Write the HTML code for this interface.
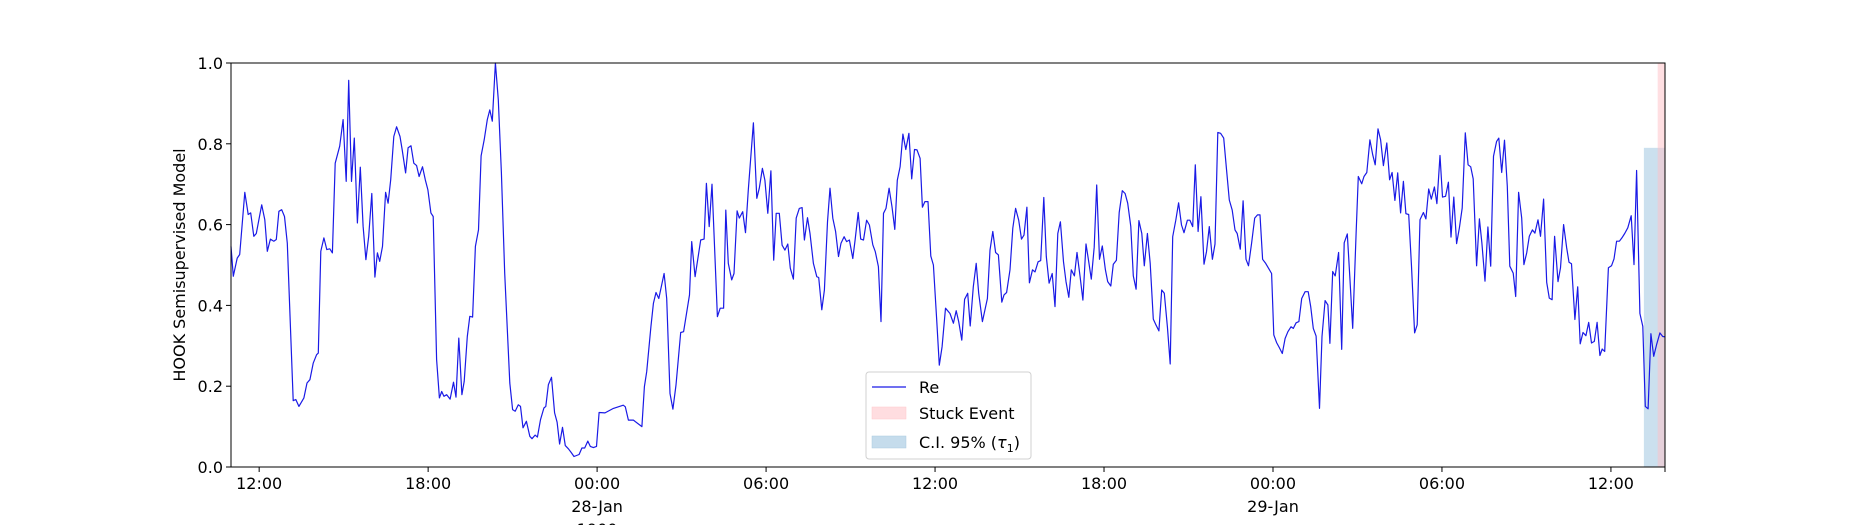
<!DOCTYPE html>
<html><head><meta charset="utf-8"><style>
body{margin:0;background:#fff;}
svg{display:block;font-family:"DejaVu Sans","Liberation Sans",sans-serif;}
</style></head><body>
<svg id="chart" width="1850" height="525" viewBox="0 0 1850 525" xmlns="http://www.w3.org/2000/svg">
<rect width="1850" height="525" fill="#fff"/>
<g id="spans"></g>
<g id="plot"></g>
<g id="axes"></g>
<text transform="translate(185,265) rotate(-90)" text-anchor="middle" font-size="16">HOOK Semisupervised Model</text>
<g>
<rect x="866" y="372" width="165" height="87" rx="3" fill="#fff" fill-opacity="0.8" stroke="#d0d0d0"/>
<line x1="872" y1="387" x2="906" y2="387" stroke="#1a1ae6" stroke-width="1.3"/>
<text x="919" y="393" font-size="16">Re</text>
<rect x="872" y="407" width="34" height="12" fill="#ffdde0" stroke="#ffc8cc" stroke-width="0.5"/>
<text x="919" y="419" font-size="16">Stuck Event</text>
<rect x="872" y="436" width="34" height="12" fill="#c5dcec" stroke="#a9c9e0" stroke-width="0.5"/>
<text x="919" y="448" font-size="16">C.I. 95% (<tspan font-style="italic">τ</tspan><tspan font-size="11" dy="4">1</tspan><tspan dy="-4">)</tspan></text>
</g>
</svg>
<script>
// hours relative to 28-Jan 00:00
const hours=[-13.0,-12.92,-12.78,-12.69,-12.51,-12.39,-12.30,-12.19,-12.1,-11.91,-11.8,-11.71,-11.6,-11.48,-11.39,-11.3,-11.2,-11.1,-11.0,-10.79,-10.7,-10.59,-10.41,-10.3,-10.2,-10.08,-9.96,-9.9,-9.81,-9.7,-9.6,-9.49,-9.4,-9.3,-9.14,-9.02,-8.91,-8.82,-8.72,-8.62,-8.51,-8.41,-8.31,-8.21,-8.11,-8.0,-7.89,-7.8,-7.72,-7.62,-7.51,-7.42,-7.33,-7.22,-7.12,-7.0,-6.92,-6.8,-6.71,-6.61,-6.51,-6.41,-6.32,-6.2,-6.1,-6.01,-5.9,-5.82,-5.7,-5.6,-5.52,-5.44,-5.34,-5.22,-5.1,-5.01,-4.91,-4.8,-4.72,-4.61,-4.52,-4.42,-4.32,-4.21,-4.12,-4.01,-3.9,-3.81,-3.72,-3.61,-3.51,-3.4,-3.28,-3.1,-3.0,-2.91,-2.8,-2.72,-2.63,-2.51,-2.39,-2.31,-2.2,-2.12,-2.01,-1.89,-1.82,-1.73,-1.62,-1.51,-1.42,-1.33,-1.23,-1.13,-1.02,-0.92,-0.82,-0.64,-0.54,-0.44,-0.33,-0.24,-0.13,-0.02,
0.07,0.28,0.58,0.93,1.0,1.11,1.29,1.59,1.68,1.76,1.91,2.0,2.09,2.19,2.38,2.47,2.59,2.69,2.8,2.97,3.07,3.28,3.36,3.48,3.68,3.8,3.88,3.98,4.08,4.27,4.37,4.49,4.57,4.66,4.78,4.86,4.97,5.05,5.17,5.27,5.37,5.55,5.67,5.76,5.87,5.96,6.06,6.17,6.27,6.36,6.47,6.57,6.67,6.77,6.86,6.97,7.07,7.18,7.28,7.36,7.47,7.56,7.68,7.8,7.87,7.98,8.07,8.18,8.27,8.37,8.47,8.57,8.66,8.77,8.86,8.96,9.08,9.16,9.27,9.36,9.46,9.57,9.67,9.79,9.88,9.99,10.08,10.17,10.26,10.37,10.47,10.57,10.66,10.76,10.86,10.96,11.07,11.17,11.27,11.36,11.47,11.55,11.64,11.75,11.85,11.94,12.06,12.15,12.25,12.37,12.53,12.65,12.75,12.84,12.95,13.05,13.16,13.25,13.36,13.46,13.55,
13.68,13.86,13.95,14.05,14.15,14.25,14.37,14.45,14.54,14.66,14.76,14.86,14.97,15.07,15.16,15.26,15.35,15.46,15.55,15.66,15.75,15.86,15.95,16.05,16.16,16.26,16.36,16.45,16.56,16.65,16.75,16.84,16.95,17.04,17.15,17.25,17.36,17.45,17.55,17.65,17.74,17.84,17.94,18.05,18.13,18.24,18.33,18.44,18.54,18.65,18.75,18.84,18.95,19.04,19.14,19.24,19.34,19.43,19.54,19.64,19.75,19.85,19.95,20.05,20.14,20.25,20.35,20.44,20.55,20.65,20.75,20.84,20.96,21.05,21.15,21.24,21.34,21.44,21.55,21.64,21.74,21.85,21.94,22.04,22.14,22.25,22.35,22.45,22.55,22.65,22.73,22.84,22.94,23.04,23.13,23.24,23.35,23.45,23.54,23.63,23.74,23.84,23.95,24.03,24.13,24.22,24.33,24.43,24.53,24.64,24.72,24.82,24.92,25.02,25.14,25.25,25.34,25.43,25.53,25.65,25.74,25.85,25.95,26.02,26.12,26.21,26.33,26.44,26.53,26.64,26.73,26.83,26.95,
27.03,27.15,27.23,27.33,27.44,27.54,27.63,27.73,27.82,27.92,28.04,28.14,28.23,28.33,28.43,28.53,28.63,28.72,28.82,28.92,29.03,29.12,29.22,29.34,29.43,29.53,29.62,29.73,29.82,29.93,30.02,30.13,30.23,30.32,30.42,30.52,30.62,30.72,30.83,30.93,31.02,31.11,31.23,31.33,31.42,31.53,31.63,31.73,31.83,31.94,32.02,32.12,32.22,32.32,32.41,32.53,32.62,32.72,32.83,32.91,33.01,33.1,33.21,33.3,33.41,33.5,33.61,33.72,33.81,33.91,34.0,34.12,34.21,34.32,34.43,34.51,34.6,34.72,34.82,34.91,35.01,35.11,35.21,35.31,35.41,35.51,35.61,35.69,35.78,35.91,36.02,36.11,36.2,36.3,36.39,36.49,36.6,36.72,36.82,36.91,37.03,37.13,37.22,37.32,37.42,37.52,37.62,37.74,37.84,37.93];
const reValues=[0.546,0.472,0.517,0.526,0.68,0.625,0.629,0.571,0.578,0.649,0.612,0.534,0.564,0.559,0.563,0.633,0.637,0.62,0.554,0.164,0.167,0.15,0.171,0.208,0.216,0.257,0.278,0.282,0.534,0.567,0.538,0.54,0.53,0.752,0.794,0.86,0.707,0.957,0.707,0.814,0.604,0.742,0.596,0.513,0.571,0.677,0.47,0.53,0.509,0.546,0.68,0.653,0.711,0.818,0.842,0.818,0.785,0.728,0.79,0.795,0.752,0.746,0.719,0.743,0.711,0.686,0.629,0.62,0.266,0.171,0.187,0.175,0.179,0.168,0.21,0.173,0.319,0.179,0.212,0.323,0.373,0.371,0.546,0.587,0.77,0.81,0.86,0.884,0.856,1.0,0.909,0.728,0.48,0.208,0.142,0.138,0.154,0.15,0.097,0.113,0.076,0.07,0.079,0.074,0.117,0.146,0.15,0.204,0.222,0.134,0.111,0.057,0.098,0.053,0.045,0.036,0.026,0.031,0.047,0.047,0.064,0.051,0.048,0.051,
0.135,0.134,0.145,0.153,0.149,0.116,0.116,0.10,0.199,0.236,0.347,0.405,0.432,0.417,0.479,0.417,0.182,0.143,0.203,0.333,0.335,0.426,0.558,0.471,0.562,0.564,0.702,0.595,0.70,0.372,0.393,0.393,0.636,0.504,0.463,0.479,0.634,0.616,0.632,0.58,0.686,0.852,0.665,0.69,0.739,0.71,0.628,0.733,0.512,0.628,0.628,0.549,0.537,0.552,0.492,0.465,0.616,0.64,0.642,0.562,0.617,0.578,0.504,0.471,0.469,0.389,0.438,0.607,0.69,0.616,0.583,0.521,0.554,0.57,0.558,0.562,0.516,0.562,0.63,0.564,0.562,0.611,0.599,0.55,0.533,0.496,0.36,0.628,0.64,0.69,0.644,0.588,0.71,0.743,0.824,0.786,0.826,0.713,0.786,0.785,0.764,0.643,0.657,0.657,0.522,0.50,0.364,0.252,0.298,0.393,0.38,0.356,0.387,0.36,0.314,0.415,0.43,0.349,0.446,0.504,0.43,
0.36,0.417,0.537,0.583,0.531,0.525,0.408,0.426,0.432,0.488,0.591,0.64,0.611,0.564,0.574,0.643,0.456,0.488,0.483,0.508,0.511,0.667,0.521,0.455,0.479,0.397,0.578,0.607,0.508,0.459,0.42,0.488,0.473,0.531,0.471,0.413,0.552,0.512,0.465,0.544,0.698,0.514,0.547,0.488,0.459,0.448,0.502,0.512,0.63,0.684,0.677,0.653,0.595,0.473,0.44,0.61,0.578,0.498,0.578,0.504,0.366,0.351,0.337,0.438,0.43,0.347,0.255,0.57,0.611,0.654,0.599,0.58,0.611,0.611,0.595,0.748,0.583,0.669,0.502,0.533,0.595,0.514,0.552,0.828,0.826,0.814,0.737,0.661,0.636,0.587,0.578,0.539,0.659,0.514,0.498,0.554,0.616,0.624,0.624,0.514,0.504,0.492,0.479,0.327,0.308,0.296,0.281,0.318,0.335,0.347,0.343,0.357,0.36,0.417,0.434,0.434,0.397,0.343,0.324,0.145,0.323,0.412,0.401,0.306,0.484,0.473,0.531,0.291,0.555,0.577,0.467,0.343,0.578,
0.719,0.701,0.719,0.729,0.81,0.773,0.748,0.837,0.81,0.746,0.802,0.711,0.729,0.66,0.728,0.629,0.707,0.627,0.625,0.497,0.332,0.352,0.612,0.63,0.614,0.688,0.663,0.693,0.652,0.771,0.668,0.67,0.705,0.569,0.668,0.553,0.592,0.641,0.827,0.748,0.743,0.713,0.498,0.614,0.554,0.46,0.594,0.497,0.769,0.806,0.814,0.729,0.809,0.695,0.497,0.48,0.422,0.68,0.616,0.501,0.53,0.571,0.587,0.579,0.612,0.571,0.663,0.457,0.418,0.414,0.571,0.459,0.493,0.6,0.542,0.507,0.503,0.365,0.446,0.305,0.333,0.325,0.358,0.307,0.311,0.358,0.276,0.292,0.286,0.493,0.498,0.515,0.559,0.559,0.567,0.578,0.592,0.622,0.501,0.734,0.38,0.348,0.15,0.144,0.33,0.274,0.303,0.332,0.323,0.322];
const yTicks=[0.0,0.2,0.4,0.6,0.8,1.0];
const yTickLabels=["0.0","0.2","0.4","0.6","0.8","1.0"];
const xTicks=[-12,-6,0,6,12,18,24,30,36];
const xTickLabels=["12:00","18:00","00:00","06:00","12:00","18:00","00:00","06:00","12:00"];
const xTickSub=["","","28-Jan","","","","29-Jan","",""];
const xDomain=[-13.0,37.92];
const ciSpan=[37.17,37.92,0.79];
const stuckSpan=[37.66,37.92,1.0];

const L=231,R=1665,T=63,B=467;
const NS="http://www.w3.org/2000/svg";
function xs(h){return L+(h-xDomain[0])/(xDomain[1]-xDomain[0])*(R-L);}
function ys(v){return B-v*(B-T);}
function mk(tag,attrs,parent){const e=document.createElementNS(NS,tag);for(const k in attrs)e.setAttribute(k,attrs[k]);parent.appendChild(e);return e;}
const spans=document.getElementById('spans'),plot=document.getElementById('plot'),axes=document.getElementById('axes');

const ci=mk('rect',{x:xs(ciSpan[0]),y:ys(ciSpan[2]),width:xs(ciSpan[1])-xs(ciSpan[0]),height:ys(0)-ys(ciSpan[2]),fill:'#a9cbe2','fill-opacity':0.6},spans);


const st=mk('rect',{x:xs(stuckSpan[0]),y:ys(stuckSpan[2]),width:xs(stuckSpan[1])-xs(stuckSpan[0]),height:ys(0)-ys(stuckSpan[2]),fill:'#ffc0c6','fill-opacity':0.5},spans);



let d='';
for(let i=0;i<hours.length;i++){d+=(i?'L':'M')+xs(hours[i]).toFixed(1)+','+ys(reValues[i]).toFixed(1);}
const line=mk('path',{d:d,fill:'none',stroke:'#1a1ae6','stroke-width':1.2,'stroke-linejoin':'round'},plot);



const frame=mk('rect',{x:L,y:T,width:R-L,height:B-T,fill:'none',stroke:'#000','stroke-width':1},axes);



yTicks.forEach((v,i)=>{
  const t=mk('line',{x1:L-5,x2:L,y1:ys(v),y2:ys(v),stroke:'#000'},axes);
  
  
  const tx=mk('text',{x:L-8,y:ys(v)+6,'text-anchor':'end','font-size':16},axes);
  
  
  tx.textContent=yTickLabels[i];
});
xTicks.forEach((h,i)=>{
  const x=xs(h);
  const t=mk('line',{x1:x,x2:x,y1:B,y2:B+5,stroke:'#000'},axes);
  
  
  const tx=mk('text',{x:x,y:489,'text-anchor':'middle','font-size':16},axes);
  
  
  tx.textContent=xTickLabels[i];
  if(xTickSub[i]){
    const s=mk('text',{x:x,y:512,'text-anchor':'middle','font-size':16},axes);
    
    
    s.textContent=xTickSub[i];
  }
});
const endTick=mk('line',{x1:R,x2:R,y1:B,y2:B+5,stroke:'#000'},axes);


const yr=mk('text',{x:xs(0),y:535,'text-anchor':'middle','font-size':16},axes);


yr.textContent='1900';
</script>
</body></html>
